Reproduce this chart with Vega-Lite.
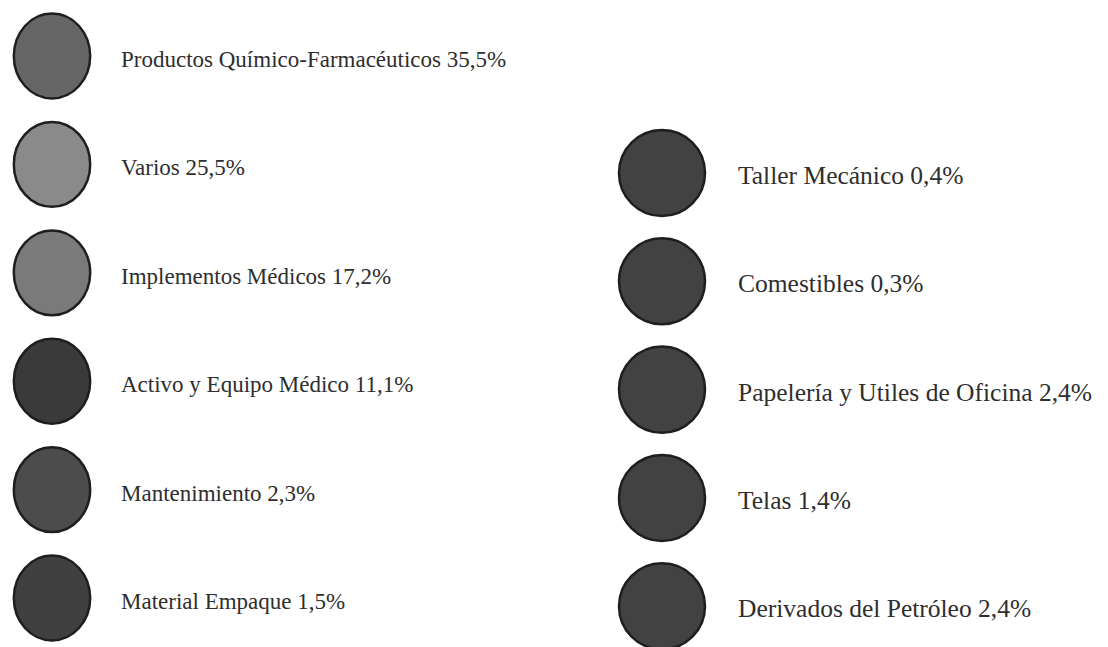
{
  "$schema": "https://vega.github.io/schema/vega-lite/v6.json",
  "width": 1108,
  "height": 647,
  "autosize": {"type": "none"},
  "padding": 0,
  "background": "#ffffff",
  "config": {"view": {"stroke": null}},
  "datasets": {
    "left": [
      {"categoria": "Productos Químico-Farmacéuticos", "pct": 35.5, "texto": "Productos Químico-Farmacéuticos 35,5%", "col": 0, "fila": 1, "tono": "a"},
      {"categoria": "Varios", "pct": 25.5, "texto": "Varios 25,5%", "col": 0, "fila": 2, "tono": "b"},
      {"categoria": "Implementos Médicos", "pct": 17.2, "texto": "Implementos Médicos 17,2%", "col": 0, "fila": 3, "tono": "c"},
      {"categoria": "Activo y Equipo Médico", "pct": 11.1, "texto": "Activo y Equipo Médico 11,1%", "col": 0, "fila": 4, "tono": "d"},
      {"categoria": "Mantenimiento", "pct": 2.3, "texto": "Mantenimiento 2,3%", "col": 0, "fila": 5, "tono": "e"},
      {"categoria": "Material Empaque", "pct": 1.5, "texto": "Material Empaque 1,5%", "col": 0, "fila": 6, "tono": "f"}
    ],
    "right": [
      {"categoria": "Taller Mecánico", "pct": 0.4, "texto": "Taller Mecánico 0,4%", "col": 1, "fila": 2, "tono": "g"},
      {"categoria": "Comestibles", "pct": 0.3, "texto": "Comestibles 0,3%", "col": 1, "fila": 3, "tono": "g"},
      {"categoria": "Papelería y Utiles de Oficina", "pct": 2.4, "texto": "Papelería y Utiles de Oficina 2,4%", "col": 1, "fila": 4, "tono": "g"},
      {"categoria": "Telas", "pct": 1.4, "texto": "Telas 1,4%", "col": 1, "fila": 5, "tono": "g"},
      {"categoria": "Derivados del Petróleo", "pct": 2.4, "texto": "Derivados del Petróleo 2,4%", "col": 1, "fila": 6, "tono": "g"}
    ]
  },
  "layer": [
    {
      "data": {"name": "left"},
      "mark": {"type": "point", "shape": "M -0.9,0 A 0.9,1 0 1,1 0.9,0 A 0.9,1 0 1,1 -0.9,0 Z", "filled": true, "size": 7200, "stroke": "#1e1e1e", "strokeWidth": 2.5, "opacity": 1},
      "encoding": {
        "x": {"field": "col", "type": "quantitative", "scale": {"domain": [-0.08525, 1.73115], "nice": false, "zero": false}, "axis": null},
        "y": {"field": "fila", "type": "quantitative", "scale": {"domain": [0.4834, 6.452], "nice": false, "zero": false, "reverse": true}, "axis": null},
        "fill": {"field": "tono", "type": "nominal", "scale": {"domain": ["a", "b", "c", "d", "e", "f", "g"], "range": ["#666666", "#8a8a8a", "#7a7a7a", "#3a3a3a", "#4c4c4c", "#404040", "#424242"]}, "legend": null}
      }
    },
    {
      "data": {"name": "left"},
      "mark": {"type": "text", "align": "left", "baseline": "middle", "dx": 69, "dy": 4, "font": "Liberation Serif", "fontSize": 23, "fill": "#2e2e2e"},
      "encoding": {
        "x": {"field": "col", "type": "quantitative", "scale": {"domain": [-0.08525, 1.73115], "nice": false, "zero": false}, "axis": null},
        "y": {"field": "fila", "type": "quantitative", "scale": {"domain": [0.4834, 6.452], "nice": false, "zero": false, "reverse": true}, "axis": null},
        "text": {"field": "texto", "type": "nominal"}
      }
    },
    {
      "data": {"name": "right"},
      "mark": {"type": "point", "shape": "circle", "filled": true, "size": 7400, "stroke": "#1e1e1e", "strokeWidth": 2.5, "opacity": 1},
      "encoding": {
        "x": {"field": "col", "type": "quantitative", "scale": {"domain": [-0.08525, 1.73115], "nice": false, "zero": false}, "axis": null},
        "y": {"field": "fila", "type": "quantitative", "scale": {"domain": [0.4026, 6.3767], "nice": false, "zero": false, "reverse": true}, "axis": null},
        "fill": {"field": "tono", "type": "nominal", "scale": {"domain": ["a", "b", "c", "d", "e", "f", "g"], "range": ["#666666", "#8a8a8a", "#7a7a7a", "#3a3a3a", "#4c4c4c", "#404040", "#424242"]}, "legend": null}
      }
    },
    {
      "data": {"name": "right"},
      "mark": {"type": "text", "align": "left", "baseline": "middle", "dx": 76, "dy": 3, "font": "Liberation Serif", "fontSize": 25.5, "fill": "#2e2e2e"},
      "encoding": {
        "x": {"field": "col", "type": "quantitative", "scale": {"domain": [-0.08525, 1.73115], "nice": false, "zero": false}, "axis": null},
        "y": {"field": "fila", "type": "quantitative", "scale": {"domain": [0.4026, 6.3767], "nice": false, "zero": false, "reverse": true}, "axis": null},
        "text": {"field": "texto", "type": "nominal"}
      }
    }
  ],
  "resolve": {"scale": {"y": "independent"}}
}
